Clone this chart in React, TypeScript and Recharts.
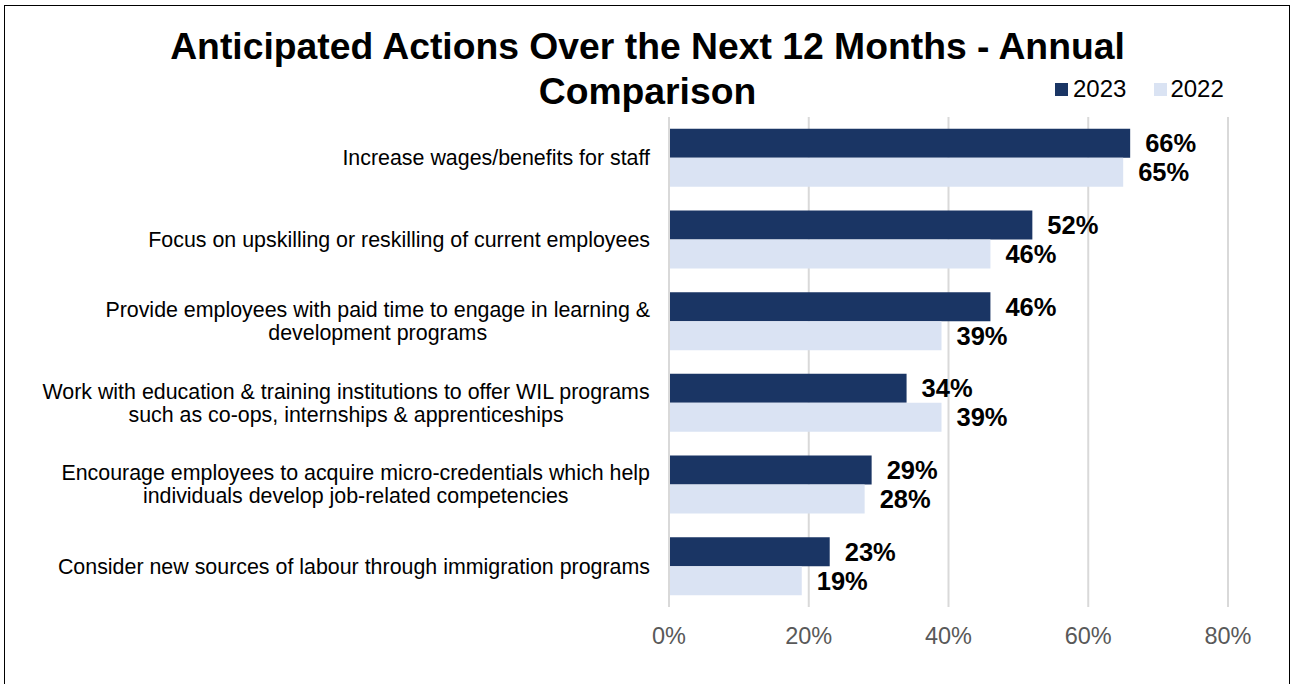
import { BarChart, Bar, XAxis, YAxis, CartesianGrid, LabelList } from 'recharts';

const categories = [
  ['Increase wages/benefits for staff'],
  ['Focus on upskilling or reskilling of current employees'],
  ['Provide employees with paid time to engage in learning &', 'development programs'],
  ['Work with education & training institutions to offer WIL programs', 'such as co-ops, internships & apprenticeships'],
  ['Encourage employees to acquire micro-credentials which help', 'individuals develop job-related competencies'],
  ['Consider new sources of labour through immigration programs'],
];
const values2023 = [66, 52, 46, 34, 29, 23];
const values2022 = [65, 46, 39, 39, 28, 19];
const xTicks = [0, 20, 40, 60, 80];

const data = categories.map((lines, i) => ({
  name: lines.join(' '),
  y2023: values2023[i],
  y2022: values2022[i],
}));

const FONT = '"Liberation Sans", Arial, sans-serif';
const NAVY = '#1A3564';
const LIGHT = '#DAE3F3';
const CAT_SIZE = 21.4;

let canvasCtx: CanvasRenderingContext2D | null = null;
const measure = (text: string, font: string) => {
  if (!canvasCtx) canvasCtx = document.createElement('canvas').getContext('2d');
  if (!canvasCtx) return text.length * 10;
  canvasCtx.font = font;
  return canvasCtx.measureText(text).width;
};

const CategoryTick = (props: any) => {
  const { y, payload, index } = props;
  const lines: string[] = categories[index] ?? [payload.value];
  const right = 650;
  const widest = Math.max(...lines.map((l) => measure(l, `${CAT_SIZE}px "Liberation Sans"`)));
  const cx = right - widest / 2;
  const lh = 23;
  const start = y - ((lines.length - 1) * lh) / 2;
  return (
    <g>
      {lines.map((l, k) => (
        <text
          key={k}
          x={cx}
          y={start + k * lh}
          dy="0.35em"
          textAnchor="middle"
          style={{ fontFamily: FONT, fontSize: CAT_SIZE }}
          fill="#000"
        >
          {l}
        </text>
      ))}
    </g>
  );
};

const labelStyle = { fontFamily: FONT, fontWeight: 'bold' as const, fontSize: 25.5, fill: '#000' };

export default function App() {
  return (
    <div style={{ position: 'absolute', left: 0, top: 0, width: 1295, height: 684, background: '#fff', overflow: 'hidden' }}>
      <BarChart
        width={1295}
        height={684}
        data={data}
        layout="vertical"
        margin={{ top: 117, right: 67, bottom: 47, left: 0 }}
        barGap={0}
        barCategoryGap="14.5%"
        style={{ position: 'absolute', left: 0, top: 0 }}
      >
        <CartesianGrid horizontal={false} stroke="#D9D9D9" strokeWidth={2} />
        <XAxis
          type="number"
          domain={[0, 80]}
          ticks={xTicks}
          tickFormatter={(v) => `${v}%`}
          axisLine={false}
          tickLine={false}
          tickMargin={14}
          tick={{ fill: '#595959', fontSize: 23.5, fontFamily: FONT }}
          height={30}
        />
        <YAxis
          type="category"
          dataKey="name"
          width={669}
          axisLine={{ stroke: '#D9D9D9', strokeWidth: 2 }}
          tickLine={false}
          tick={<CategoryTick />}
          interval={0}
        />
        <Bar dataKey="y2023" name="2023" fill={NAVY} isAnimationActive={false}>
          <LabelList dataKey="y2023" position="right" offset={15} formatter={(v: any) => `${v}%`} style={labelStyle} />
        </Bar>
        <Bar dataKey="y2022" name="2022" fill={LIGHT} isAnimationActive={false}>
          <LabelList dataKey="y2022" position="right" offset={15} formatter={(v: any) => `${v}%`} style={labelStyle} />
        </Bar>
      </BarChart>
      <div
        style={{
          position: 'absolute',
          left: 4,
          top: 5,
          width: 1286,
          height: 700,
          border: '1.5px solid #000',
          boxSizing: 'border-box',
          pointerEvents: 'none',
        }}
      />
      <div
        style={{
          position: 'absolute',
          left: 0,
          top: 24,
          width: 1295,
          textAlign: 'center',
          fontFamily: FONT,
          fontWeight: 'bold',
          fontSize: 37.3,
          lineHeight: '45px',
          color: '#000',
        }}
      >
        Anticipated Actions Over the Next 12 Months - Annual
        <br />
        Comparison
      </div>
      <div
        style={{
          position: 'absolute',
          left: 1055,
          top: 75,
          height: 28,
          display: 'flex',
          alignItems: 'center',
          fontFamily: FONT,
          fontSize: 24,
          color: '#000',
        }}
      >
        <span style={{ width: 13, height: 13, background: NAVY, display: 'inline-block', marginRight: 5 }} />
        <span style={{ marginRight: 28 }}>2023</span>
        <span style={{ width: 13, height: 13, background: LIGHT, display: 'inline-block', marginRight: 3 }} />
        <span>2022</span>
      </div>
    </div>
  );
}
